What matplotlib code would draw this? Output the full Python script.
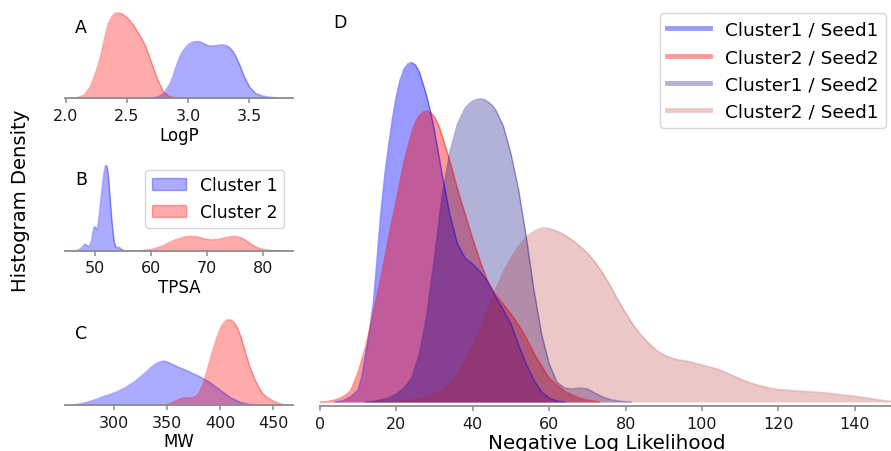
import matplotlib.pyplot as plt
from matplotlib.lines import Line2D
from matplotlib.patches import Patch

# panel A - LogP
logp_c1_x = [2.65, 2.70, 2.75, 2.80, 2.85, 2.88, 2.90, 2.93, 2.95, 2.98, 3.00, 3.03, 3.05, 3.08,
             3.10, 3.12, 3.16, 3.20, 3.25, 3.28, 3.30, 3.32, 3.34, 3.36, 3.38, 3.42, 3.46, 3.50,
             3.55, 3.60, 3.65, 3.70, 3.76]
logp_c1_y = [0.0, 0.004, 0.012, 0.045, 0.14, 0.23, 0.31, 0.41, 0.46, 0.51, 0.535, 0.558, 0.565, 0.568,
             0.563, 0.55, 0.527, 0.523, 0.531, 0.533, 0.531, 0.522, 0.505, 0.478, 0.44, 0.335, 0.21,
             0.115, 0.05, 0.025, 0.013, 0.006, 0.0]
logp_c2_x = [2.06, 2.10, 2.15, 2.20, 2.25, 2.28, 2.30, 2.33, 2.35, 2.38, 2.40, 2.42, 2.43, 2.46,
             2.50, 2.55, 2.60, 2.65, 2.70, 2.75, 2.80, 2.85, 2.90, 2.92]
logp_c2_y = [0.0, 0.008, 0.03, 0.11, 0.27, 0.39, 0.50, 0.66, 0.75, 0.82, 0.845, 0.853, 0.853, 0.845,
             0.81, 0.74, 0.64, 0.53, 0.36, 0.19, 0.06, 0.018, 0.003, 0.0]

# panel B - TPSA
tpsa_c1_x = [46.6, 47.2, 47.7, 48.2, 48.6, 49.0, 49.4, 49.7, 49.9, 50.1, 50.3, 50.6, 50.9, 51.2, 51.5,
             51.7, 51.85, 52.0, 52.15, 52.3, 52.5, 52.8, 53.1, 53.4, 53.7, 54.0, 54.3, 54.7, 55.3]
tpsa_c1_y = [0.0, 0.01, 0.035, 0.065, 0.05, 0.04, 0.10, 0.20, 0.24, 0.225, 0.21, 0.27, 0.42, 0.58, 0.73,
             0.80, 0.84, 0.85, 0.835, 0.79, 0.67, 0.45, 0.25, 0.10, 0.04, 0.03, 0.035, 0.015, 0.0]
tpsa_c2_x = [58, 60, 62, 64, 66, 67, 68, 70, 71, 72, 74, 75, 76, 77, 78, 79, 80, 81, 83]
tpsa_c2_y = [0.0, 0.01, 0.045, 0.10, 0.138, 0.143, 0.14, 0.113, 0.108, 0.113, 0.138, 0.143, 0.13, 0.10,
             0.06, 0.03, 0.012, 0.004, 0.0]

# panel C - MW
mw_c1_x = [262, 270, 280, 290, 300, 310, 320, 330, 335, 340, 344, 347, 350, 353, 360, 370, 380,
           390, 400, 410, 420, 428, 435]
mw_c1_y = [0.0, 0.015, 0.045, 0.085, 0.12, 0.17, 0.24, 0.33, 0.38, 0.42, 0.438, 0.443, 0.435, 0.42,
           0.385, 0.34, 0.29, 0.23, 0.15, 0.073, 0.023, 0.006, 0.0]
mw_c2_x = [348, 352, 356, 360, 364, 368, 372, 376, 380, 384, 388, 392, 396, 400, 402, 404, 406,
           408, 410, 412, 414, 416, 420, 424, 428, 432, 436, 440, 444, 450, 456, 462]
mw_c2_y = [0.0, 0.01, 0.03, 0.05, 0.068, 0.072, 0.068, 0.08, 0.115, 0.21, 0.355, 0.51, 0.65, 0.765,
           0.805, 0.835, 0.853, 0.86, 0.857, 0.845, 0.82, 0.79, 0.68, 0.53, 0.39, 0.28, 0.19, 0.12,
           0.08, 0.043, 0.015, 0.0]

# panel D - negative log likelihood
nll_c1s1_x = [4, 6, 8, 10, 11, 12, 13, 14, 15, 16, 17, 18, 19, 20, 21, 22, 23, 24, 25, 26, 27, 28,
              29, 30, 32, 34, 36, 38, 40, 42, 44, 46, 48, 50, 52, 54, 56, 58, 60, 62, 64]
nll_c1s1_y = [0.0, 0.001, 0.005, 0.012, 0.026, 0.048, 0.072, 0.100, 0.145, 0.192, 0.228, 0.257,
              0.284, 0.306, 0.322, 0.333, 0.338, 0.3395, 0.337, 0.330, 0.318, 0.305, 0.289, 0.271,
              0.227, 0.187, 0.158, 0.144, 0.138, 0.130, 0.120, 0.105, 0.092, 0.078, 0.057,
              0.038, 0.022, 0.010, 0.004, 0.001, 0.0]
nll_c2s2_x = [0, 2, 4, 6, 8, 10, 12, 14, 16, 18, 20, 22, 24, 25, 26, 27, 28, 29, 30, 31, 32, 34,
              36, 38, 40, 42, 44, 46, 48, 50, 52, 54, 56, 58, 60, 62, 64, 66, 68, 70, 72, 73]
nll_c2s2_y = [0.0, 0.0005, 0.002, 0.005, 0.011, 0.030, 0.056, 0.090, 0.125, 0.165, 0.202, 0.240,
              0.269, 0.280, 0.2865, 0.290, 0.291, 0.2895, 0.285, 0.277, 0.266, 0.241, 0.213,
              0.188, 0.163, 0.140, 0.120, 0.107, 0.098, 0.088, 0.077, 0.064, 0.049, 0.036, 0.024,
              0.017, 0.011, 0.007, 0.004, 0.002, 0.0007, 0.0]
nll_c1s2_x = [12, 14, 16, 18, 20, 22, 24, 26, 28, 30, 32, 34, 36, 38, 39, 40, 41, 42, 43, 44, 45,
              46, 48, 50, 52, 54, 56, 58, 60, 62, 64, 66, 68, 70, 72, 74, 76, 78, 80, 81.5]
nll_c1s2_y = [0.0, 0.0005, 0.002, 0.004, 0.008, 0.014, 0.024, 0.047, 0.088, 0.145, 0.207, 0.250,
              0.278, 0.294, 0.298, 0.301, 0.3025, 0.303, 0.3025, 0.300, 0.297, 0.292, 0.276,
              0.248, 0.212, 0.165, 0.112, 0.068, 0.038, 0.020, 0.014, 0.013, 0.014, 0.013, 0.009,
              0.005, 0.0025, 0.001, 0.0003, 0.0]
nll_c2s1_x = [14, 18, 22, 26, 28, 30, 32, 34, 36, 38, 40, 42, 44, 46, 48, 50, 52, 54, 56, 57, 58,
              59, 60, 62, 64, 66, 68, 70, 72, 74, 76, 78, 80, 82, 84, 86, 88, 90, 92, 94, 96, 98,
              100, 102, 104, 106, 108, 110, 112, 114, 116, 118, 120, 124, 128, 132, 136, 140,
              144, 148, 150]
nll_c2s1_y = [0.0, 0.0002, 0.001, 0.003, 0.005, 0.008, 0.012, 0.018, 0.028, 0.041, 0.056, 0.074,
              0.094, 0.113, 0.130, 0.144, 0.156, 0.165, 0.1705, 0.1725, 0.1738, 0.174, 0.1735,
              0.171, 0.167, 0.162, 0.156, 0.149, 0.140, 0.129, 0.116, 0.102, 0.089, 0.077, 0.067,
              0.059, 0.052, 0.047, 0.044, 0.042, 0.041, 0.039, 0.037, 0.035, 0.033, 0.030,
              0.0265, 0.023, 0.020, 0.0175, 0.0155, 0.0137, 0.0125, 0.0113, 0.0103, 0.0092,
              0.0075, 0.0058, 0.0035, 0.0012, 0.0005]

W, H = 891, 452
fig = plt.figure(figsize=(W / 100, H / 100), dpi=100)

def px_axes(left, top, right, bottom):
    return fig.add_axes([left / W, 1 - bottom / H, (right - left) / W, (bottom - top) / H])

def style(ax):
    for s in ["top", "right", "left"]:
        ax.spines[s].set_visible(False)
    ax.spines["bottom"].set_color("#8c8c8c")
    ax.spines["bottom"].set_linewidth(1.3)
    ax.set_yticks([])
    ax.tick_params(axis="x", colors="#8c8c8c", labelcolor="#1a1a1a", length=3.5, width=1.1,
                   labelsize=11.5)

def kde(ax, x, y, color, alpha):
    ax.plot(x, y, color=color, alpha=alpha, lw=1.1)
    ax.fill_between(x, y, 0, color=color, alpha=alpha, lw=0)

axA = px_axes(65, 9.7, 293, 99.3)
axB = px_axes(65, 162, 293, 251.7)
axC = px_axes(65, 316.5, 293, 406)
axD = px_axes(320, 7, 893, 407)

kde(axA, logp_c1_x, logp_c1_y, "blue", 0.33)
kde(axA, logp_c2_x, logp_c2_y, "red", 0.33)
axA.set_xlim(1.995, 3.855)
axA.set_ylim(0, max(logp_c2_y) * 1.05)
axA.set_xticks([2.0, 2.5, 3.0, 3.5])
axA.set_xlabel("LogP", fontsize=12, labelpad=2)

kde(axB, tpsa_c1_x, tpsa_c1_y, "blue", 0.33)
kde(axB, tpsa_c2_x, tpsa_c2_y, "red", 0.33)
axB.set_xlim(44.65, 85.35)
axB.set_ylim(0, max(tpsa_c1_y) * 1.05)
axB.set_xticks([50, 60, 70, 80])
axB.set_xlabel("TPSA", fontsize=12, labelpad=2)
axB.legend(handles=[Patch(color="blue", alpha=0.33, label="Cluster 1"),
                    Patch(color="red", alpha=0.33, label="Cluster 2")],
           loc="upper right", fontsize=12.3, borderaxespad=0.5)

kde(axC, mw_c1_x, mw_c1_y, "blue", 0.33)
kde(axC, mw_c2_x, mw_c2_y, "red", 0.33)
axC.set_xlim(253.5, 468.9)
axC.set_ylim(0, max(mw_c2_y) * 1.05)
axC.set_xticks([300, 350, 400, 450])
axC.set_xlabel("MW", fontsize=12, labelpad=2)

for ax, lab in [(axA, "A"), (axB, "B"), (axC, "C")]:
    style(ax)
    ax.text(0.07, 0.80, lab, transform=ax.transAxes, fontsize=12.5, ha="center", va="center")

series_d = [
    (nll_c1s1_x, nll_c1s1_y, "blue", 0.4, "Cluster1 / Seed1"),
    (nll_c2s2_x, nll_c2s2_y, "red", 0.4, "Cluster2 / Seed2"),
    (nll_c1s2_x, nll_c1s2_y, "navy", 0.3, "Cluster1 / Seed2"),
    (nll_c2s1_x, nll_c2s1_y, "firebrick", 0.25, "Cluster2 / Seed1"),
]
handles = []
for x, y, c, a, lab in series_d:
    kde(axD, x, y, c, a)
    handles.append(Line2D([], [], color=c, alpha=a, lw=3.5, label=lab))
style(axD)
axD.set_xlim(0, 150)
axD.set_ylim(-0.004, 0.396)
axD.set_xticks([0, 20, 40, 60, 80, 100, 120, 140])
axD.set_xlabel("Negative Log Likelihood", fontsize=14.3, labelpad=2)
axD.text(0.035, 0.96, "D", transform=axD.transAxes, fontsize=12.5, ha="center", va="center")
axD.legend(handles=handles, loc="upper right", fontsize=13.3, handlelength=2.3,
           borderaxespad=0.4)

fig.text(0.0235, 0.555, "Histogram Density", rotation=90, fontsize=14.1, ha="center", va="center")

fig.savefig("out.png", dpi=100)
